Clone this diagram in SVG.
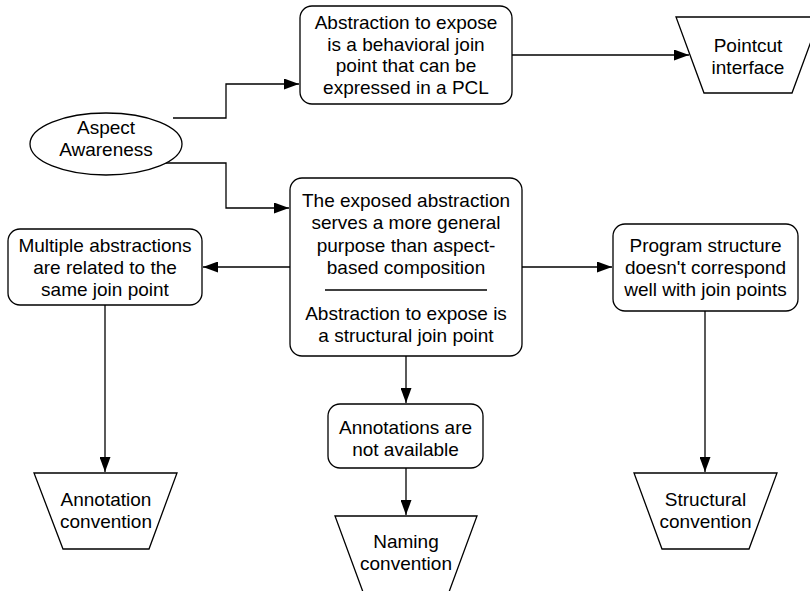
<svg xmlns="http://www.w3.org/2000/svg" width="810" height="591" viewBox="0 0 810 591">
<defs>
<style>
.s{fill:#fff;stroke:#000;stroke-width:1.3}
.c{fill:none;stroke:#000;stroke-width:1.3}
text{font-family:"Liberation Sans",Arial,Helvetica,sans-serif;font-size:19px;fill:#000;text-anchor:middle}
</style>
<marker id="ah" markerWidth="15" markerHeight="11" refX="15" refY="5.5" orient="auto" markerUnits="userSpaceOnUse">
<path d="M0,0 L15,5.5 L0,11 Z" fill="#000"/>
</marker>
</defs>
<rect width="810" height="591" fill="#fff"/>
<g id="connectors">
<path class="c" d="M173,118 H226 V84 H299" marker-end="url(#ah)"/>
<path class="c" d="M163,163 H226 V208 H289" marker-end="url(#ah)"/>
<path class="c" d="M512,55 H689" marker-end="url(#ah)"/>
<path class="c" d="M290,267 H203" marker-end="url(#ah)"/>
<path class="c" d="M522,267 H612" marker-end="url(#ah)"/>
<path class="c" d="M406,356 V403" marker-end="url(#ah)"/>
<path class="c" d="M406,468 V515" marker-end="url(#ah)"/>
<path class="c" d="M105,305 V472" marker-end="url(#ah)"/>
<path class="c" d="M705,311 V472" marker-end="url(#ah)"/>
</g>
<g id="aspect">
<ellipse class="s" cx="106" cy="144" rx="76" ry="31"/>
<text x="106" y="133.5">Aspect</text>
<text x="106" y="156">Awareness</text>
</g>
<g id="behavioral">
<rect class="s" x="300" y="6" width="212" height="98" rx="12"/>
<text x="406" y="29">Abstraction to expose</text>
<text x="406" y="50.5">is a behavioral join</text>
<text x="406" y="72">point that can be</text>
<text x="406" y="94">expressed in a PCL</text>
</g>
<g id="pointcut">
<polygon class="s" points="676,17 820,17 792,93 704,93"/>
<text x="748" y="52">Pointcut</text>
<text x="748" y="74">interface</text>
</g>
<g id="exposed">
<rect class="s" x="290" y="178" width="232" height="178" rx="12"/>
<text x="406" y="207">The exposed abstraction</text>
<text x="406" y="229">serves a more general</text>
<text x="406" y="252">purpose than aspect-</text>
<text x="406" y="274">based composition</text>
<line class="c" x1="325" y1="290" x2="487" y2="290"/>
<text x="406" y="320">Abstraction to expose is</text>
<text x="406" y="342">a structural join point</text>
</g>
<g id="multiple">
<rect class="s" x="8" y="229" width="194" height="76" rx="12"/>
<text x="105" y="252">Multiple abstractions</text>
<text x="105" y="274">are related to the</text>
<text x="105" y="296">same join point</text>
</g>
<g id="program">
<rect class="s" x="613" y="224" width="185" height="87" rx="12"/>
<text x="705.5" y="252">Program structure</text>
<text x="705.5" y="274">doesn't correspond</text>
<text x="705.5" y="296">well with join points</text>
</g>
<g id="annotations">
<rect class="s" x="328" y="404" width="155" height="64" rx="12"/>
<text x="405.5" y="434">Annotations are</text>
<text x="405.5" y="455.5">not available</text>
</g>
<g id="annotation-conv">
<polygon class="s" points="34,473 177,473 149,549 63,549"/>
<text x="106" y="506">Annotation</text>
<text x="106" y="528">convention</text>
</g>
<g id="naming-conv">
<polygon class="s" points="335,516 477,516 449,592 363,592"/>
<text x="406" y="548">Naming</text>
<text x="406" y="570">convention</text>
</g>
<g id="structural-conv">
<polygon class="s" points="634,473 777,473 749,549 662,549"/>
<text x="705.5" y="506">Structural</text>
<text x="705.5" y="528">convention</text>
</g>
</svg>
